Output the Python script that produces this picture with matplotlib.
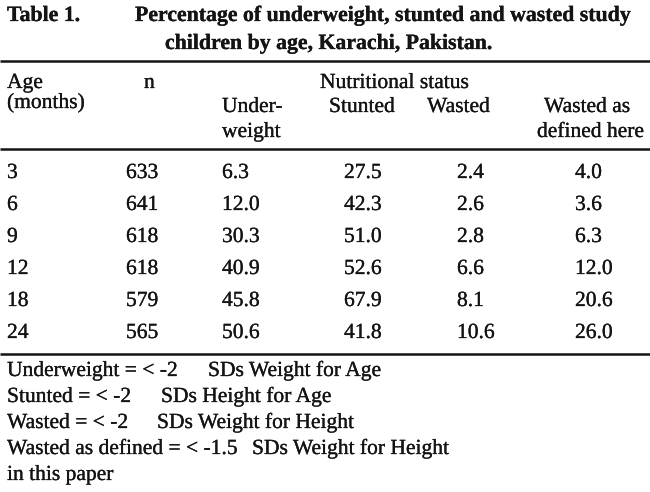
import matplotlib.pyplot as plt
import matplotlib.patheffects as pe

# Datos de la tabla
ages = [3, 6, 9, 12, 18, 24]
n_children = [633, 641, 618, 618, 579, 565]
underweight = [6.3, 12.0, 30.3, 40.9, 45.8, 50.6]
stunted = [27.5, 42.3, 51.0, 52.6, 67.9, 41.8]
wasted = [2.4, 2.6, 2.8, 6.6, 8.1, 10.6]
wasted_defined = [4.0, 3.6, 6.3, 12.0, 20.6, 26.0]

title_label = "Table 1."
title_lines = ["Percentage of underweight, stunted and wasted study",
               "children by age, Karachi, Pakistan."]

footnote_terms = ["Underweight = < -2", "Stunted = < -2", "Wasted = < -2",
                  "Wasted as defined = < -1.5"]
footnote_defs = ["SDs Weight for Age", "SDs Height for Age",
                 "SDs Weight for Height", "SDs Weight for Height"]
footnote_last = "in this paper"

FONT = "Liberation Serif"
INK = "#141414"
FS = 15.5

fig = plt.figure(figsize=(6.5, 4.92), dpi=100)
ax = fig.add_axes([0, 0, 1, 1])
ax.set_xlim(0, 650)
ax.set_ylim(492, 0)
ax.axis("off")

# trazo leve para imitar la tinta del escaneo
ink = [pe.withStroke(linewidth=0.2, foreground=INK)]


def put(x, y, s, bold=False, size=FS):
    # y es el centro visual del texto; se pasa a linea base
    ax.text(x, y + 6, s, fontsize=size, family=FONT, color=INK,
            fontweight="bold" if bold else "normal", va="baseline", ha="left",
            path_effects=ink)


# Titulo
put(7, 15, title_label, bold=True, size=15.7)
put(135, 15, title_lines[0], bold=True, size=15.7)
put(165, 43, title_lines[1], bold=True, size=15.7)

# Lineas horizontales
for y in [61, 149, 354]:
    ax.plot([0, 650], [y, y], color=INK, lw=1.8, solid_capstyle="butt")

# Encabezados
put(7, 82, "Age")
put(7, 102, "(months)")
put(144, 82, "n")
put(320, 82, "Nutritional status")
put(222, 106, "Under-")
put(222, 131, "weight")
put(329, 106, "Stunted")
put(427, 106, "Wasted")
put(544, 106, "Wasted as")
put(537, 131, "defined here")

# Filas
col_x = [7, 126, 222, 344, 457, 575]
row_y0, row_dy = 172, 32
for i in range(len(ages)):
    y = row_y0 + i * row_dy
    vals = [str(ages[i]), str(n_children[i]), f"{underweight[i]:.1f}",
            f"{stunted[i]:.1f}", f"{wasted[i]:.1f}", f"{wasted_defined[i]:.1f}"]
    for x, v in zip(col_x, vals):
        put(x, y, v)

# Notas al pie
def_x = [208, 161, 157, 252]
foot_y0, foot_dy = 370, 26
for i, (term, d) in enumerate(zip(footnote_terms, footnote_defs)):
    y = foot_y0 + i * foot_dy
    put(7, y, term)
    put(def_x[i], y, d)
put(7, foot_y0 + 4 * foot_dy, footnote_last)

fig.savefig("out.png", dpi=100, facecolor="white")
